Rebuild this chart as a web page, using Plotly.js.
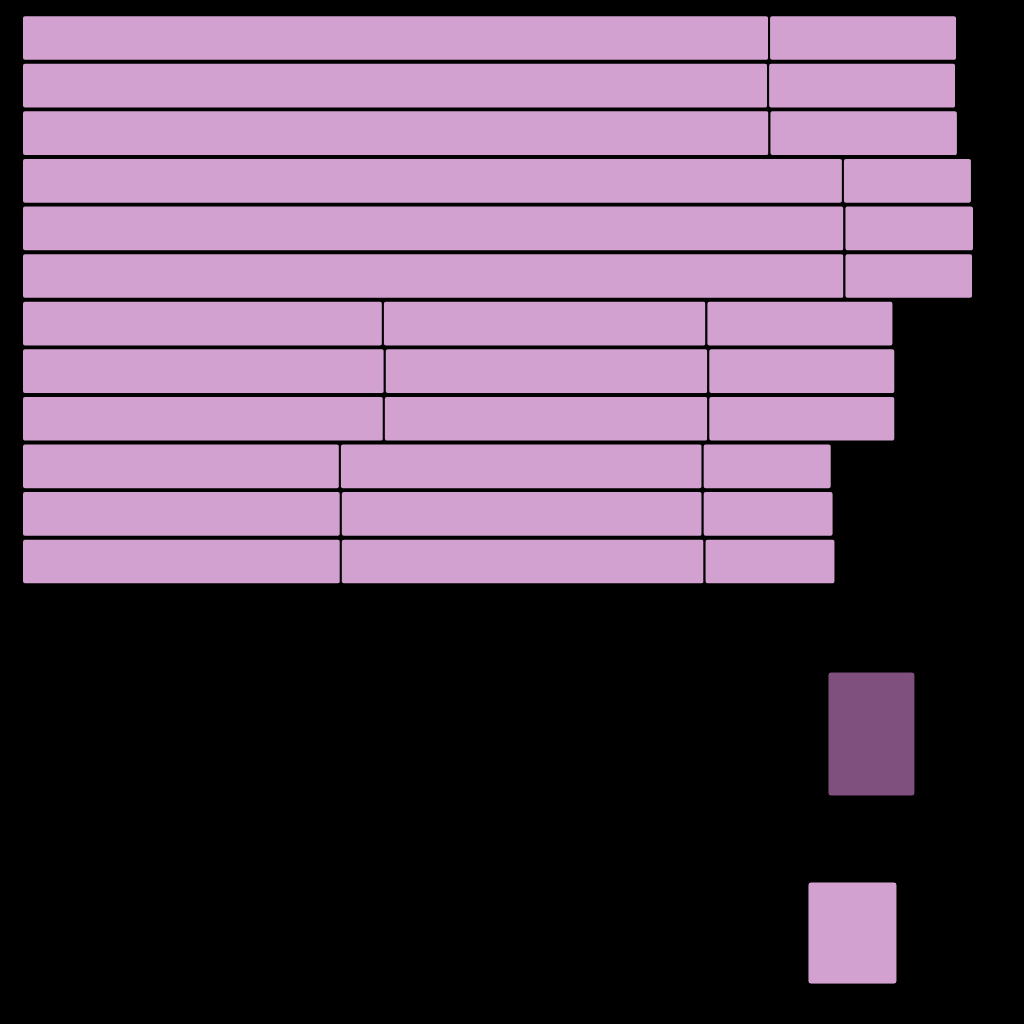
<!DOCTYPE html>
<html>
<head>
<meta charset="utf-8">
<script src="https://cdn.plot.ly/plotly-3.0.1.min.js"></script>
<style>html,body{margin:0;padding:0;background:#000;}#chart{width:1024px;height:1024px;}</style>
</head>
<body>
<div id="chart"></div>
<script>
// Categories (rows, top to bottom)
const categories = ["R1","R2","R3","R4","R5","R6","R7","R8","R9","R10","R11","R12"];
// Segment values per row
const seg1 = [39.95, 39.9, 39.97, 43.9, 43.98, 43.98, 19.3, 19.4, 19.35, 17.0, 17.05, 17.05];
const seg2 = [10.05, 10.05, 10.08, 6.9, 6.93, 6.88, 17.3, 17.3, 17.35, 19.4, 19.35, 19.45];
const seg3 = [0, 0, 0, 0, 0, 0, 10.0, 10.0, 10.0, 6.9, 7.0, 7.0];
// Lower panel boxes
const boxLabels = [1, 0];
const boxStart = [43.1, 42.03];
const boxLength = [4.65, 4.76];

const light = "#D3A1CF";
const dark = "#7F4F7D";

const base2 = seg1.map(v => v);
const base3 = seg1.map((v, i) => v + seg2[i]);

const common = {
  type: "bar", orientation: "h", y: categories,
  marker: {color: light, line: {color: "#000", width: 2}},
  hoverinfo: "skip", showlegend: false
};
const traces = [
  Object.assign({}, common, {x: seg1, base: seg1.map(() => 0), name: "seg1"}),
  Object.assign({}, common, {x: seg2, base: base2, name: "seg2"}),
  Object.assign({}, common, {x: seg3, base: base3, name: "seg3"}),
  {
    type: "bar", orientation: "h", x: boxLength, base: boxStart, y: boxLabels,
    width: [0.623, 0.513], xaxis: "x", yaxis: "y2",
    marker: {color: [dark, light], line: {color: "#000", width: 1}},
    hoverinfo: "skip", showlegend: false
  }
];

const layout = {
  width: 1024, height: 1024,
  paper_bgcolor: "#000", plot_bgcolor: "#000",
  margin: {l: 22, r: 2, t: 0, b: 0, pad: 0},
  barmode: "overlay", bargap: 0.04, barcornerradius: 3,
  showlegend: false,
  xaxis: {range: [0, 1000 / 18.7], showgrid: false, zeroline: false, showticklabels: false, ticks: "", showline: false},
  yaxis: {domain: [0.4284, 0.9861], autorange: "reversed", type: "category", showgrid: false, zeroline: false, showticklabels: false, ticks: "", showline: false},
  yaxis2: {domain: [0, 0.4], range: [-0.457, 1.601], showgrid: false, zeroline: false, showticklabels: false, ticks: "", showline: false}
};

Plotly.newPlot("chart", traces, layout, {staticPlot: true, displayModeBar: false});
</script>
</body>
</html>
